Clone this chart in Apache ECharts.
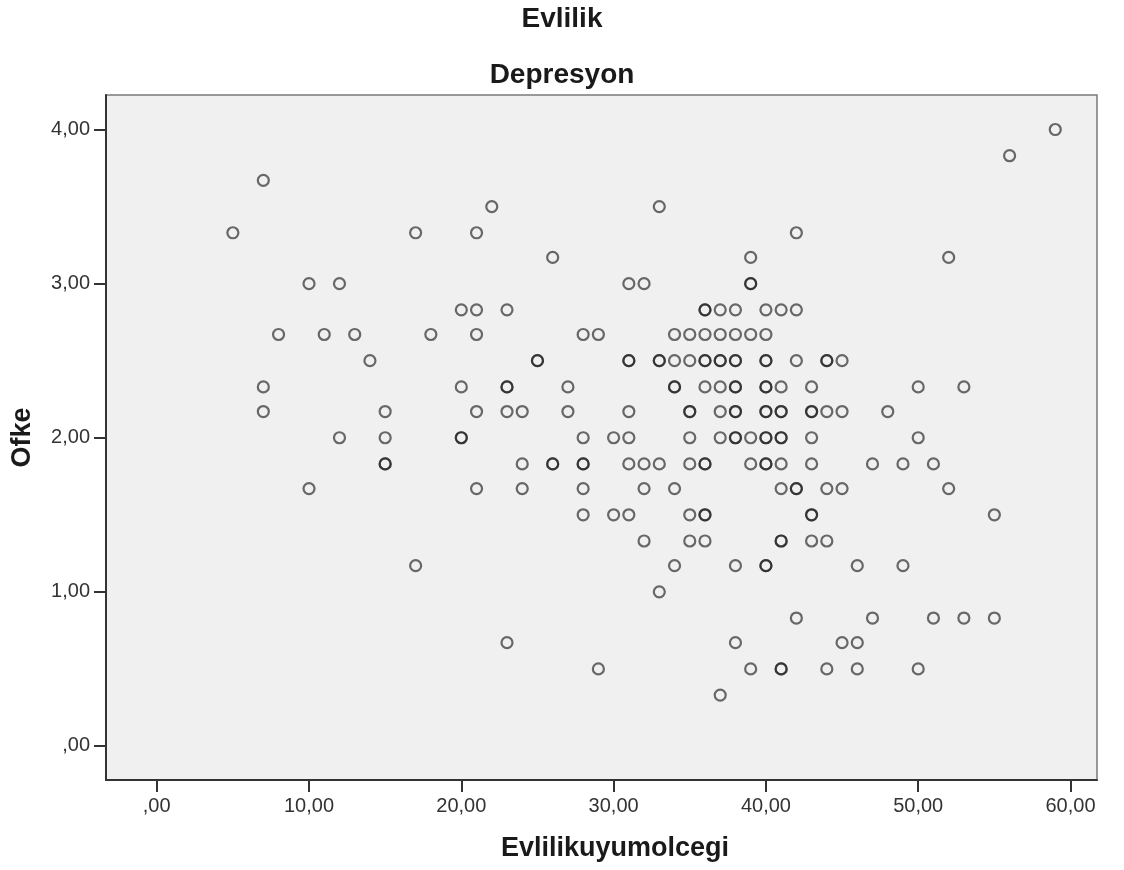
<!DOCTYPE html>
<html>
<head>
<meta charset="utf-8">
<script src="https://cdn.jsdelivr.net/npm/echarts@6.0.0/dist/echarts.min.js"></script>
<style>
  html, body { margin: 0; padding: 0; background: #ffffff; }
  #chart { width: 1124px; height: 870px; }
</style>
</head>
<body>
<div id="chart"></div>
<script>
// ---- Data ----
// Ofke levels (y) and the Evlilikuyumolcegi values (x) of the cases at each level.
// Repeated x values are overlapping cases (drawn darker in the reference).
const ofkeLevels = [4.00, 3.83, 3.67, 3.50, 3.33, 3.17, 3.00, 2.83, 2.67, 2.50, 2.33, 2.17, 2.00, 1.83, 1.67, 1.50, 1.33, 1.17, 1.00, 0.83, 0.67, 0.50, 0.33];
const evlilikAtLevel = [
  [59],
  [56],
  [7],
  [22, 33],
  [5, 17, 21, 42],
  [26, 39, 52],
  [10, 12, 31, 32, 39, 39],
  [20, 21, 23, 36, 36, 37, 38, 40, 41, 42],
  [8, 11, 13, 18, 21, 28, 29, 34, 35, 36, 37, 38, 39, 40],
  [14, 25, 25, 31, 31, 33, 33, 34, 35, 36, 36, 37, 37, 38, 38, 40, 40, 42, 44, 44, 45],
  [7, 20, 23, 23, 27, 34, 34, 36, 37, 38, 38, 40, 40, 41, 43, 50, 53],
  [7, 15, 21, 23, 24, 27, 31, 35, 35, 37, 38, 38, 40, 40, 41, 41, 43, 43, 44, 45, 48],
  [12, 15, 20, 20, 28, 30, 31, 35, 37, 38, 38, 39, 40, 40, 41, 41, 43, 50],
  [15, 15, 24, 26, 26, 28, 28, 31, 32, 33, 35, 36, 36, 39, 40, 40, 41, 43, 47, 49, 51],
  [10, 21, 24, 28, 32, 34, 41, 42, 42, 44, 45, 52],
  [28, 30, 31, 35, 36, 36, 43, 43, 55],
  [32, 35, 36, 41, 41, 43, 44],
  [17, 34, 38, 40, 40, 46, 49],
  [33],
  [42, 47, 51, 53, 55],
  [23, 38, 45, 46],
  [29, 39, 41, 41, 44, 46, 50],
  [37]
];

// Tick values and labels
const xTickValues = [0, 10, 20, 30, 40, 50, 60];
const xTickLabels = [',00', '10,00', '20,00', '30,00', '40,00', '50,00', '60,00'];
const yTickValues = [0, 1, 2, 3, 4];
const yTickLabels = [',00', '1,00', '2,00', '3,00', '4,00'];

// Titles
const mainTitle = 'Evlilik';
const subTitle = 'Depresyon';
const xName = 'Evlilikuyumolcegi';
const yName = 'Ofke';

// ---- Build points ----
const points = [];
ofkeLevels.forEach(function (lvl, i) {
  evlilikAtLevel[i].forEach(function (x) { points.push([x, lvl]); });
});

function labelFor(values, labels) {
  return function (v) {
    for (let i = 0; i < values.length; i++) {
      if (Math.abs(values[i] - v) < 1e-6) return labels[i];
    }
    return '';
  };
}

const FONT = 'Liberation Sans, Arial, sans-serif';
const chart = echarts.init(document.getElementById('chart'), null, { renderer: 'canvas' });

chart.setOption({
  backgroundColor: '#ffffff',
  animation: false,
  title: [
    { text: mainTitle, left: 'center', top: 5, padding: 0,
      textStyle: { fontSize: 28, fontWeight: 'bold', color: '#1a1a1a', fontFamily: FONT } },
    { text: subTitle, left: 'center', top: 61, padding: 0,
      textStyle: { fontSize: 28, fontWeight: 'bold', color: '#1a1a1a', fontFamily: FONT } }
  ],
  grid: {
    left: 106, right: 27, top: 95, bottom: 90,
    show: true, backgroundColor: '#f0f0f0', borderColor: '#7a7a7a', borderWidth: 1.5
  },
  xAxis: {
    type: 'value',
    min: -3.33, max: 61.74,
    name: xName, nameLocation: 'middle', nameGap: 55,
    nameTextStyle: { fontSize: 27, fontWeight: 'bold', color: '#1a1a1a', fontFamily: FONT, padding: [0, 0, 0, 27] },
    axisLine: { show: true, onZero: false, lineStyle: { color: '#333333', width: 2 } },
    axisTick: { show: true, length: 12, customValues: xTickValues, lineStyle: { color: '#333333', width: 2 } },
    axisLabel: { customValues: xTickValues, formatter: labelFor(xTickValues, xTickLabels),
      fontSize: 20, color: '#333333', fontFamily: FONT, margin: 16 },
    splitLine: { show: false }
  },
  yAxis: {
    type: 'value',
    min: -0.221, max: 4.224,
    name: yName, nameLocation: 'middle', nameGap: 70,
    nameTextStyle: { fontSize: 27, fontWeight: 'bold', color: '#1a1a1a', fontFamily: FONT },
    axisLine: { show: true, onZero: false, lineStyle: { color: '#333333', width: 2 } },
    axisTick: { show: true, length: 12, customValues: yTickValues, lineStyle: { color: '#333333', width: 2 } },
    axisLabel: { customValues: yTickValues, formatter: labelFor(yTickValues, yTickLabels),
      fontSize: 20, color: '#333333', fontFamily: FONT, margin: 16 },
    splitLine: { show: false }
  },
  series: [{
    type: 'scatter',
    data: points,
    symbol: 'circle',
    symbolSize: 11,
    itemStyle: { color: 'rgba(0,0,0,0)', borderColor: 'rgba(25,25,25,0.8)', borderWidth: 2.2 },
    emphasis: { disabled: true }
  }]
});
</script>
</body>
</html>
